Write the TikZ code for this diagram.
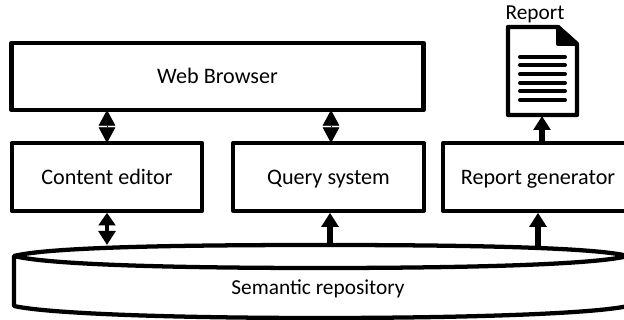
\documentclass[tikz,border=0pt]{standalone}
\usepackage{fontspec}
\setmainfont{Carlito}
\usetikzlibrary{arrows.meta}
\tikzset{
  x=0.75pt,y=-0.75pt,
  box/.style={draw=black,line width=3.2pt,fill=white,inner sep=0pt,minimum height=50.5pt,font=\fontsize{16.6}{18}\selectfont,text=black,line join=round,text height=14pt,text depth=3pt},
  one/.style={draw=black,line width=3.8pt,-{Triangle[width=12.5pt,length=10.5pt]}},
  both/.style={draw=black,line width=0.6pt,{Triangle[width=12.5pt,length=11.8pt]}-{Triangle[width=12.5pt,length=11.8pt]}},
  bothstem/.style={draw=black,line width=3.6pt,{Triangle[width=12.5pt,length=9.5pt]}-{Triangle[width=12.5pt,length=10.5pt]}},
  shape line/.style={draw=black,line width=3.2pt,line join=round},
  rule line/.style={draw=black,line width=3pt,line cap=round},
  lbl/.style={font=\fontsize{16}{18}\selectfont,text=black,inner sep=0pt},
}
\begin{document}
\begin{tikzpicture}
\useasboundingbox (0,0) rectangle (624,320);
\clip (0,0) rectangle (624,320);
% boxes
\node[box,minimum width=309pt] (web) at (217.5,76.5) {Web Browser};
\node[box,minimum width=143pt] (content) at (107,177) {Content editor};
\node[box,minimum width=143pt] (query) at (328.5,177) {Query system};
\node[box,minimum width=142.5pt] (report) at (538,177) {Report generator};
% cylinder
\path[shape line,fill=white] (14,256) -- (14,306) .. controls (50,314) and (180,318) .. (320,318)
  .. controls (460,318) and (592,314) .. (628,306) -- (628,256)
  .. controls (592,247) and (460,245) .. (320,245) .. controls (180,245) and (50,247) .. (14,256) -- cycle;
\path[shape line] (14,256) .. controls (50,265) and (180,268) .. (320,268) .. controls (460,268) and (592,265) .. (628,256);
\node[lbl] (repo) at (318,289) {Semantic repository};
% document
\path[shape line,fill=white] (508,27) -- (558,27) -- (577,44) -- (577,115) -- (508,115) -- cycle;
\path[draw=black,fill=black,line width=3pt,line join=round] (558,27) -- (577,44) -- (558,44) -- cycle;
\foreach \yy in {57,65,74,83,91,100} \draw[rule line] (520,\yy) -- (565,\yy);
\coordinate (doc) at (542,116);
\node[lbl] (reportlabel) at (535,14) {Report};
% anchors
\coordinate (cyla) at (107,245);
\coordinate (cylb) at (330,246);
\coordinate (cylc) at (538,246);
\coordinate (docfoot) at (542,142);
% connectors
\draw[both] (107,110) -- (107,143);
\draw[both] (331,110) -- (331,143);
\draw[bothstem] (content.south) -- (cyla);
\draw[one] (cylb) -- (cylb |- query.south);
\draw[one] (cylc) -- (report.south);
\draw[one] (docfoot) -- (doc);
\end{tikzpicture}
\end{document}
